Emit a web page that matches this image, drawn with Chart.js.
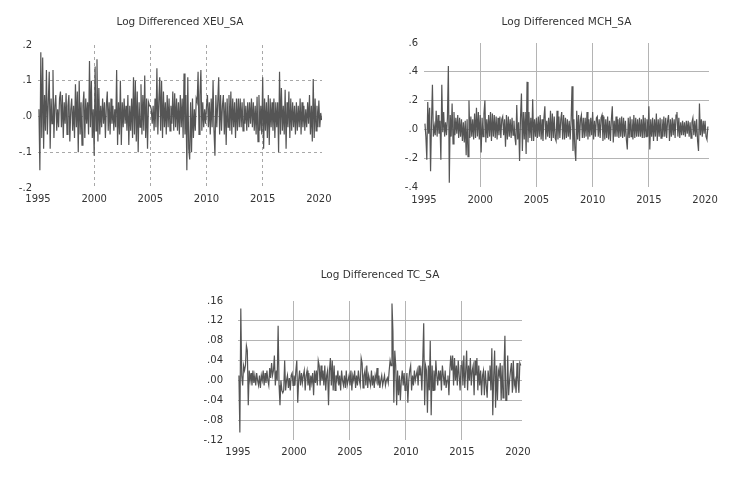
<!DOCTYPE html>
<html>
<head>
<meta charset="utf-8">
<script src="https://cdn.jsdelivr.net/npm/chart.js@4.4.1/dist/chart.umd.min.js"></script>
<style>
  html, body { margin: 0; padding: 0; background: #ffffff; }
  body { width: 736px; height: 477px; position: relative; overflow: hidden; }
  .box { position: absolute; }
</style>
</head>
<body>
<div class="box" id="b1" style="left:0px;top:0px;width:340px;height:210px;"><canvas id="c1"></canvas></div>
<div class="box" id="b2" style="left:384px;top:0px;width:336px;height:212px;"><canvas id="c2"></canvas></div>
<div class="box" id="b3" style="left:190px;top:255px;width:346px;height:222px;"><canvas id="c3"></canvas></div>
<script>
// Monthly series, first observation 1995M02
const startYear = 1995;
const startMonth = 2;

const titles = ["Log Differenced XEU_SA", "Log Differenced MCH_SA", "Log Differenced TC_SA"];

const xeu = [
  0.02, -0.15, 0.18, -0.06, 0.165, -0.09, 0.06, -0.04, 0.13, -0.05, 0.04,
  0.125, -0.09, 0.05, -0.02, 0.13, -0.06, 0.03, 0.06, -0.04, 0.02, -0.03, 0.05,
  0.07, -0.03, 0.06, -0.06, 0.04, -0.02, 0.065, -0.05, 0.03, 0.06, -0.07, 0.02,
  0.05, -0.04, 0.03, -0.06, 0.09, -0.03, 0.07, -0.10, 0.10, -0.05, 0.04, -0.08,
  0.03, 0.07, -0.06, 0.05, -0.02, 0.04, -0.05, 0.155, -0.03, 0.10, -0.06, 0.02,
  -0.11, 0.14, -0.04, 0.16, -0.07, 0.08, -0.05, 0.03, -0.03, 0.05, -0.02, 0.04,
  -0.06, 0.03, 0.07, -0.04, 0.04, -0.05, 0.05, -0.02, 0.03, -0.04, 0.02, -0.03,
  0.13, -0.08, 0.04, -0.05, 0.10, -0.08, 0.04, -0.03, 0.05, -0.02, 0.03, -0.04,
  0.06, -0.08, 0.03, -0.04, 0.05, -0.06, 0.11, -0.05, 0.10, -0.07, 0.07, -0.10,
  0.04, -0.03, 0.09, -0.05, 0.06, -0.04, 0.115, -0.06, 0.05, -0.09, 0.04, 0.03,
  0.03, 0.02, -0.02, 0.03, -0.04, 0.05, -0.03, 0.135, -0.05, 0.04, 0.11, -0.04,
  0.10, -0.06, 0.07, -0.03, 0.04, -0.05, 0.06, -0.03, 0.05, -0.04, 0.03, -0.02,
  0.07, -0.04, 0.065, -0.03, 0.05, -0.04, 0.04, -0.05, 0.06, -0.03, 0.05, -0.06,
  0.12, -0.05, 0.06, -0.15, 0.11, -0.09, -0.12, 0.04, -0.10, 0.05, -0.06, 0.02,
  -0.04, 0.05, 0.04, 0.125, -0.05, 0.06, 0.13, -0.04, 0.04, -0.03, 0.02, -0.02,
  0.03, 0.06, -0.03, 0.04, -0.05, 0.05, -0.03, 0.10, -0.04, -0.11, 0.06, -0.03,
  0.04, 0.11, -0.05, 0.06, -0.04, 0.03, 0.06, -0.05, 0.04, -0.08, 0.05, -0.03,
  0.06, -0.04, 0.07, -0.05, 0.05, -0.03, 0.04, -0.06, 0.05, -0.04, 0.05, -0.03,
  0.05, -0.03, 0.04, -0.04, 0.05, -0.02, 0.03, -0.04, 0.04, -0.03, 0.04, -0.02,
  0.05, -0.03, 0.04, -0.04, 0.03, -0.05, 0.055, -0.07, 0.06, -0.04, 0.03, -0.05,
  0.11, -0.09, 0.05, -0.04, 0.04, -0.06, 0.06, -0.08, 0.05, -0.03, 0.04, -0.04,
  0.05, -0.06, 0.04, -0.03, 0.04, -0.10, 0.125, -0.05, 0.08, -0.04, 0.03, -0.05,
  0.075, -0.09, 0.04, -0.03, 0.07, -0.06, 0.05, -0.04, 0.04, -0.03, 0.03, -0.05,
  0.04, -0.04, 0.03, -0.03, 0.05, -0.05, 0.04, -0.03, 0.03, -0.04, 0.02, -0.03,
  0.04, -0.02, 0.06, -0.05, 0.03, -0.07, 0.105, -0.06, 0.05, -0.04, 0.03, -0.03,
  0.045, -0.03, 0.01, -0.01
];

const mch = [
  0.04, -0.05, -0.21, 0.19, -0.03, 0.15, -0.29, 0.05, 0.31, -0.05, 0.02,
  -0.04, 0.13, -0.05, 0.10, -0.03, 0.06, -0.21, 0.31, -0.02, 0.12, -0.05, 0.05,
  -0.04, 0.08, 0.44, -0.37, 0.10, -0.05, 0.18, -0.10, 0.12, -0.04, 0.08, -0.03,
  0.10, -0.06, 0.08, -0.05, 0.07, -0.08, 0.05, -0.09, 0.06, -0.18, 0.07, -0.19,
  0.20, -0.06, 0.09, -0.05, 0.07, -0.07, 0.11, -0.06, 0.15, -0.05, 0.12, -0.07,
  0.10, -0.16, 0.08, -0.05, 0.11, 0.20, -0.09, 0.07, -0.06, 0.10, -0.05, 0.12,
  -0.08, 0.11, -0.05, 0.10, -0.06, 0.09, -0.07, 0.08, -0.04, 0.09, -0.06, 0.07,
  0.09, -0.04, 0.07, -0.12, 0.10, -0.07, 0.09, -0.05, 0.07, -0.06, 0.08, -0.04,
  0.06, -0.05, -0.11, 0.17, -0.07, 0.05, -0.22, 0.08, 0.25, -0.15, 0.12, -0.07,
  0.12, -0.17, 0.33, -0.09, 0.12, -0.06, 0.08, -0.08, 0.21, -0.08, 0.07, -0.05,
  0.08, -0.06, 0.09, -0.05, 0.10, -0.07, 0.07, -0.08, 0.08, 0.16, -0.07, 0.06,
  -0.05, 0.08, -0.06, 0.13, -0.08, 0.11, -0.06, 0.09, -0.06, -0.08, 0.13, -0.07,
  0.09, -0.06, 0.07, 0.12, -0.07, 0.10, -0.07, 0.08, -0.06, 0.07, -0.05, 0.06,
  -0.07, 0.06, 0.30, -0.15, 0.07, -0.13, -0.22, 0.13, -0.07, 0.10, -0.08, 0.07,
  0.10, -0.06, 0.08, -0.06, 0.08, -0.05, 0.12, -0.07, 0.07, -0.05, 0.08, -0.04,
  0.12, -0.07, 0.06, -0.05, 0.08, 0.09, -0.05, 0.07, -0.06, 0.08, 0.10, -0.08,
  0.09, -0.07, 0.07, -0.06, 0.09, -0.07, 0.06, -0.08, 0.07, 0.16, -0.09, 0.06,
  -0.05, 0.09, -0.05, 0.07, -0.06, 0.08, -0.05, 0.09, -0.06, 0.08, -0.05, 0.06,
  -0.07, -0.14, 0.08, -0.06, 0.09, -0.05, 0.07, -0.07, 0.10, -0.06, 0.08, -0.05,
  0.07, -0.05, 0.08, -0.05, 0.07, -0.06, 0.10, -0.06, 0.08, -0.05, 0.07, -0.05,
  0.16, -0.14, 0.07, -0.05, 0.08, -0.08, 0.07, -0.05, 0.11, -0.08, 0.07, -0.05,
  0.08, -0.06, 0.07, -0.05, 0.09, -0.05, 0.08, -0.06, 0.06, 0.10, -0.08, 0.07,
  -0.05, 0.08, -0.04, 0.07, -0.06, 0.10, 0.12, -0.05, 0.08, -0.06, 0.05, -0.04,
  0.06, -0.04, 0.05, -0.05, 0.06, -0.03, 0.06, -0.05, 0.05, -0.06, 0.05, 0.08,
  -0.04, 0.06, -0.05, 0.07, -0.08, -0.15, 0.18, -0.04, 0.07, -0.05, 0.06, -0.03,
  0.06, -0.05, -0.07, 0.02
];

const tc = [
  0.01, -0.105, 0.145, 0.01, -0.01, 0.03, 0.02, 0.03, 0.07, 0.06, -0.05,
  0.02, 0.0, 0.015, -0.01, 0.02, -0.005, 0.01, -0.01, 0.015, 0.0, -0.01, 0.01,
  -0.015, 0.01, 0.0, 0.02, -0.01, 0.015, -0.005, 0.02, 0.0, -0.01, 0.025, 0.005,
  0.035, 0.01, 0.02, 0.05, -0.01, 0.02, 0.0, 0.11, -0.01, -0.05, 0.0, -0.02,
  -0.025, -0.02, 0.04, -0.02, 0.0, 0.01, -0.015, 0.005, -0.02, 0.01, 0.015, -0.01,
  0.01, -0.01, 0.02, 0.04, -0.045, 0.0, 0.02, -0.01, 0.015, -0.005, 0.01, 0.02,
  -0.02, 0.01, 0.02, -0.01, 0.015, -0.02, 0.01, -0.005, 0.015, -0.03, 0.02, -0.005,
  0.02, -0.01, 0.04, 0.03, -0.01, 0.03, 0.0, 0.02, -0.01, 0.03, -0.02, 0.01,
  0.02, -0.05, 0.02, 0.045, -0.01, 0.04, -0.02, 0.03, -0.02, 0.01, 0.0, 0.02,
  -0.01, 0.01, -0.02, 0.02, 0.0, -0.01, 0.01, -0.015, 0.02, -0.01, 0.0, 0.01,
  -0.01, 0.02, -0.02, 0.01, 0.0, 0.02, -0.015, 0.01, -0.01, 0.02, 0.0, -0.01,
  0.045, 0.035, -0.015, 0.01, 0.02, -0.01, 0.03, -0.015, 0.01, 0.0, -0.01, 0.02,
  -0.01, 0.01, -0.015, 0.01, 0.0, 0.025, -0.01, 0.01, -0.015, 0.0, 0.01, -0.01,
  0.0, 0.01, -0.01, 0.0, 0.005, -0.005, 0.02, 0.04, 0.03, 0.155, 0.10, -0.045,
  0.06, 0.03, -0.05, 0.02, -0.03, 0.01, -0.04, 0.0, 0.02, -0.01, 0.015, -0.02,
  -0.01, 0.015, -0.045, 0.0, 0.02, 0.03, -0.02, 0.01, -0.01, 0.02, 0.0, 0.01,
  0.02, -0.01, 0.03, 0.01, 0.02, -0.02, 0.04, 0.115, -0.05, 0.03, 0.02, -0.065,
  0.03, -0.02, 0.08, -0.07, 0.03, -0.02, 0.02, -0.02, 0.04, 0.01, -0.01, 0.02,
  0.0, 0.02, -0.02, 0.03, 0.01, -0.01, 0.02, -0.015, 0.0, 0.01, -0.03, 0.02,
  0.05, 0.02, 0.05, -0.01, 0.045, 0.0, 0.03, -0.01, 0.04, 0.01, -0.02, 0.03,
  0.04, -0.01, 0.05, -0.015, 0.02, 0.06, -0.02, 0.03, 0.0, 0.045, -0.01, 0.02,
  0.03, -0.03, 0.04, 0.01, 0.045, -0.02, 0.03, -0.01, 0.02, -0.03, 0.01, 0.02,
  -0.03, 0.02, -0.01, -0.035, 0.02, 0.0, 0.03, -0.02, 0.065, -0.07, 0.01, 0.06,
  -0.055, 0.03, -0.04, 0.02, 0.01, 0.035, -0.04, 0.03, -0.035, 0.02, 0.09, -0.04,
  -0.04, 0.05, -0.03, 0.0, 0.02, 0.035, -0.025, 0.04, -0.01, 0.0, -0.025, 0.035,
  0.0, -0.025, 0.035, 0.03
];

// Axis ticks
const yearTicks = [1995, 2000, 2005, 2010, 2015, 2020];
const yearLabels = ["1995", "2000", "2005", "2010", "2015", "2020"];
const xeuTicks = [-0.2, -0.1, 0, 0.1, 0.2];
const xeuLabels = ["-.2", "-.1", ".0", ".1", ".2"];
const mchTicks = [-0.4, -0.2, 0, 0.2, 0.4, 0.6];
const mchLabels = ["-.4", "-.2", ".0", ".2", ".4", ".6"];
const tcTicks = [-0.12, -0.08, -0.04, 0, 0.04, 0.08, 0.12, 0.16];
const tcLabels = ["-.12", "-.08", "-.04", ".00", ".04", ".08", ".12", ".16"];

const FONT = "'DejaVu Sans', 'Liberation Sans', sans-serif";
const TXT = '#333333';

function toPoints(vals) {
  return vals.map((v, i) => ({ x: startYear + (startMonth - 1 + i) / 12, y: v }));
}

// Title centred over the plot area (as in the reference)
const plotTitle = {
  id: 'plotTitle',
  afterDraw(chart, args, opts) {
    const a = chart.chartArea;
    const ctx = chart.ctx;
    ctx.save();
    ctx.font = '10.5px ' + FONT;
    ctx.fillStyle = TXT;
    ctx.textAlign = 'center';
    ctx.textBaseline = 'middle';
    ctx.fillText(opts.text, (a.left + a.right) / 2, opts.y);
    ctx.restore();
  }
};

function makeChart(canvasId, title, vals, yT, yL, xMax, o) {
  const yMin = yT[0], yMax = yT[yT.length - 1];
  const xMin = yearTicks[0];
  const gridCol = o.gridColor;
  return new Chart(document.getElementById(canvasId), {
    type: 'line',
    data: {
      datasets: [{
        data: toPoints(vals),
        borderColor: '#555555',
        borderWidth: 1.2,
        pointRadius: 0,
        tension: 0,
        fill: false
      }]
    },
    plugins: [plotTitle],
    options: {
      responsive: true,
      maintainAspectRatio: false,
      animation: false,
      events: [],
      layout: { padding: { top: o.padTop, left: 0, right: o.padRight, bottom: 0 } },
      plugins: {
        legend: { display: false },
        tooltip: { enabled: false },
        title: { display: false },
        plotTitle: { text: title, y: o.titleY }
      },
      scales: {
        x: {
          type: 'linear',
          min: xMin,
          max: xMax,
          afterBuildTicks: (s) => { s.ticks = yearTicks.map(v => ({ value: v })); },
          afterFit: (s) => { s.height = o.xAxisH; s.paddingLeft = 0; s.paddingRight = 0; },
          ticks: {
            color: TXT,
            font: { family: FONT, size: 10 },
            padding: o.xPad,
            maxRotation: 0,
            autoSkip: false,
            callback: (v) => yearLabels[yearTicks.indexOf(v)]
          },
          grid: {
            drawTicks: false,
            lineWidth: 1,
            color: (c) => (c.tick && (c.tick.value === 1995 || c.tick.value === 2020)) ? 'rgba(0,0,0,0)' : gridCol
          },
          border: { display: false, dash: o.dash }
        },
        y: {
          type: 'linear',
          min: yMin,
          max: yMax,
          afterBuildTicks: (s) => { s.ticks = yT.map(v => ({ value: v })); },
          afterFit: (s) => { s.width = o.yAxisW; s.paddingTop = 0; s.paddingBottom = 0; },
          ticks: {
            color: TXT,
            font: { family: FONT, size: 10 },
            padding: o.yPad,
            autoSkip: false,
            callback: (v) => yL[yT.indexOf(v)]
          },
          grid: {
            drawTicks: false,
            lineWidth: 1,
            color: (c) => (c.tick && (c.tick.value === yMin || c.tick.value === yMax)) ? 'rgba(0,0,0,0)' : gridCol
          },
          border: { display: false, dash: o.dash }
        }
      }
    }
  });
}

makeChart('c1', titles[0], xeu, xeuTicks, xeuLabels, 2020.28, {
  padTop: 45, titleY: 22, padRight: 18, xAxisH: 22, xPad: 5, yAxisW: 38, yPad: 6,
  gridColor: '#a8a8a8', dash: [3, 3]
});
makeChart('c2', titles[1], mch, mchTicks, mchLabels, 2020.35, {
  padTop: 43, titleY: 22, padRight: 11, xAxisH: 25, xPad: 7, yAxisW: 40, yPad: 6,
  gridColor: '#b4b4b4', dash: []
});
makeChart('c3', titles[2], tc, tcTicks, tcLabels, 2020.36, {
  padTop: 46, titleY: 20, padRight: 14, xAxisH: 37, xPad: 6, yAxisW: 48, yPad: 15,
  gridColor: '#b4b4b4', dash: []
});
</script>
</body>
</html>
